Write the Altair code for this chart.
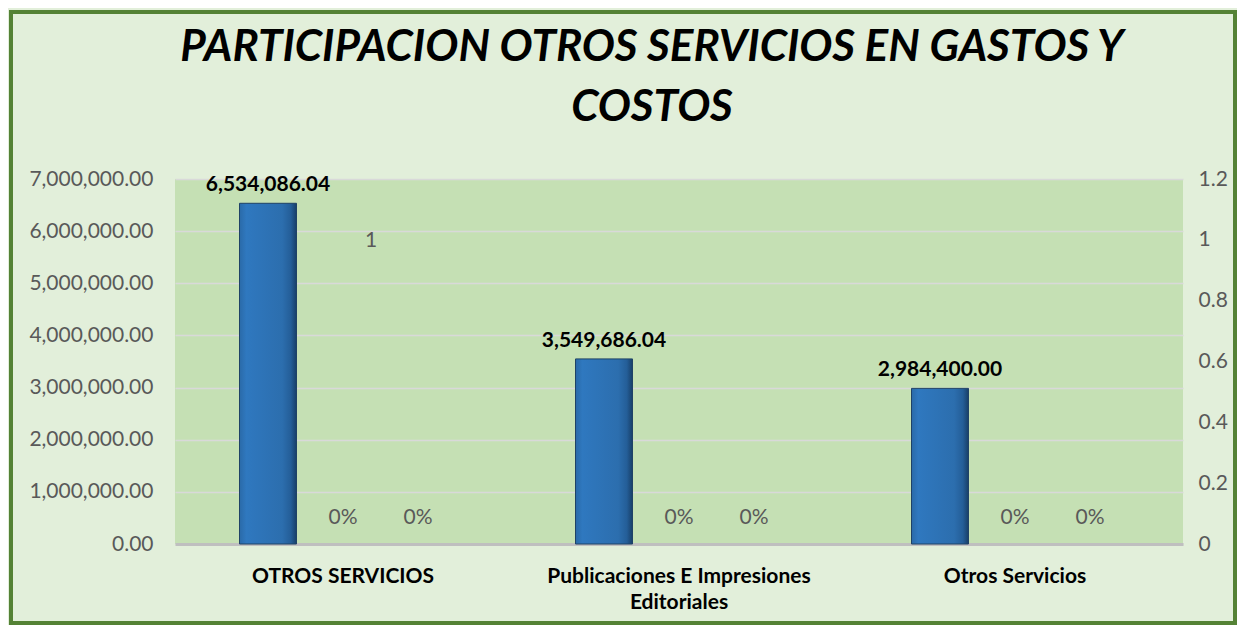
import altair as alt
import pandas as pd

categories = ["OTROS SERVICIOS", "Publicaciones E Impresiones Editoriales", "Otros Servicios"]
valores = [6534086.04, 3549686.04, 2984400.00]
participacion_a = [0, 0, 0]
participacion_b = [0, 0, 0]
series = ["Valor", "Part A", "Part B"]
marca_categoria = "OTROS SERVICIOS"
marca_valor = 1
left_ticks = [0, 1000000, 2000000, 3000000, 4000000, 5000000, 6000000, 7000000]
right_ticks = [0, 0.2, 0.4, 0.6, 0.8, 1.0, 1.2]
title_lines = ["PARTICIPACION OTROS SERVICIOS EN GASTOS Y", "COSTOS"]

FONT = "Lato"

df_bars = pd.DataFrame({"categoria": categories, "valor": valores, "serie": series[0]})
rows = []
for c, a, b in zip(categories, participacion_a, participacion_b):
    rows.append({"categoria": c, "pct": a, "serie": series[1], "label": f"{a:.0%}"})
    rows.append({"categoria": c, "pct": b, "serie": series[2], "label": f"{b:.0%}"})
df_pct = pd.DataFrame(rows)
df_one = pd.DataFrame({"categoria": [marca_categoria], "pct": [marca_valor], "serie": [series[1]],
                       "label": [str(marca_valor)]})

x_enc = alt.X("categoria:N", sort=categories,
              scale=alt.Scale(domain=categories, paddingInner=0, paddingOuter=0),
              axis=alt.Axis(title=None, labelAngle=0, labelFont=FONT, labelFontSize=21,
                            labelFontWeight="bold", labelColor="black", labelPadding=21,
                            labelLimit=1000, labelLineHeight=26, ticks=False,
                            domainColor="#BFBFBF", domainWidth=3,
                            labelExpr="datum.value == 'Publicaciones E Impresiones Editoriales' ? ['Publicaciones E Impresiones', 'Editoriales'] : datum.label"))
xo_enc = alt.XOffset("serie:N", sort=series,
                     scale=alt.Scale(domain=series, paddingInner=0.24, paddingOuter=0.86))

y_left = alt.Y("valor:Q", scale=alt.Scale(domain=[0, 7000000]),
               axis=alt.Axis(orient="left", values=left_ticks, format=",.2f", title=None,
                             grid=True, gridColor="#D9D9D9", gridWidth=1.5, domain=False,
                             ticks=False, labelFont=FONT, labelFontSize=21,
                             labelColor="#595959", labelPadding=22))
y_right = alt.Y("pct:Q", scale=alt.Scale(domain=[0, 1.2]),
                axis=alt.Axis(orient="right", values=right_ticks, format=".1~f", title=None,
                              grid=False, domain=False, ticks=False, labelFont=FONT,
                              labelFontSize=21, labelColor="#595959", labelPadding=15))

grad = alt.Gradient(gradient="linear", x1=0, x2=1, y1=0, y2=0,
                    stops=[alt.GradientStop(offset=0, color="#2A6AA8"),
                           alt.GradientStop(offset=0.12, color="#2F78BF"),
                           alt.GradientStop(offset=0.75, color="#2C6EAE"),
                           alt.GradientStop(offset=0.9, color="#245E98"),
                           alt.GradientStop(offset=1, color="#183F68")])

bars = alt.Chart(df_bars).mark_bar(color=grad, stroke="#1F4266", strokeWidth=1).encode(
    x=x_enc, xOffset=xo_enc, y=y_left)
bar_labels = alt.Chart(df_bars).mark_text(dy=-18, font=FONT, fontSize=21, fontWeight="bold",
                                          color="black").encode(
    x=x_enc, xOffset=xo_enc, y=y_left, text=alt.Text("valor:Q", format=",.2f"))

border = alt.Chart(pd.DataFrame({"k": [0]})).mark_rect(
    fill=None, stroke="#548235", strokeWidth=4).encode(
    x=alt.value(-164), x2=alt.value(1060), y=alt.value(-167), y2=alt.value(444))

pct_labels = alt.Chart(df_pct).mark_text(dy=-26, font=FONT, fontSize=21, color="#595959").encode(
    x=x_enc, xOffset=xo_enc, y=y_right, text="label:N")
one_label = alt.Chart(df_one).mark_text(dx=28, dy=1, font=FONT, fontSize=21,
                                        color="#595959").encode(
    x=x_enc, xOffset=xo_enc, y=y_right, text="label:N")

left_layer = alt.layer(border, bars, bar_labels)
right_layer = alt.layer(pct_labels, one_label)

chart = alt.layer(left_layer, right_layer).resolve_scale(y="independent").properties(
    width=1008, height=365,
    padding={"left": 167, "top": 171, "right": 54, "bottom": 81},
    autosize=alt.AutoSizeParams(type="none"),
    title=alt.Title(title_lines, font=FONT, fontSize=44, fontWeight="bold", fontStyle="italic",
                    color="black", anchor="middle", dx=-27, offset=-120, lineHeight=60),
).configure(background="#E2EFDA").configure_view(fill="#C5E0B4", stroke=None)

chart.save("out.html", embed_options={"renderer": "svg", "actions": False})
